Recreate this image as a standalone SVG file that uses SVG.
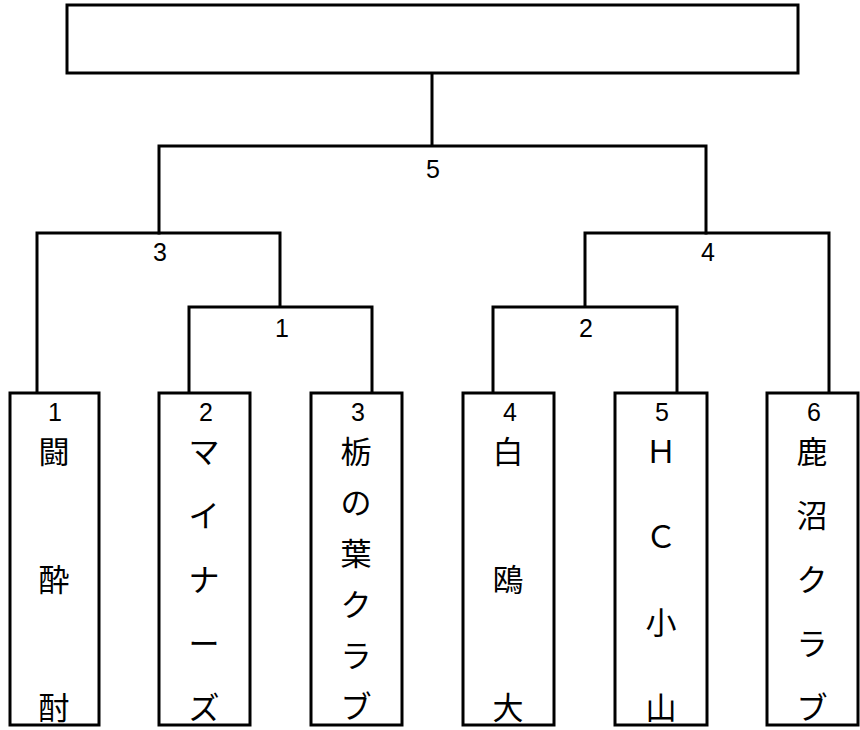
<svg xmlns="http://www.w3.org/2000/svg" width="860" height="730" viewBox="0 0 860 730">
<style>
.box{fill:#fff;stroke:#000;stroke-width:3}
.ln{fill:none;stroke:#000;stroke-width:3;stroke-linecap:square}
.num{font-family:"Liberation Sans",Arial,sans-serif;font-size:25px;text-anchor:middle;fill:#000}
.nm{font-family:"Noto Sans CJK JP","Noto Sans CJK SC",sans-serif;font-size:31px;text-anchor:middle;dominant-baseline:central;fill:#000}
</style>
<rect width="860" height="730" fill="#fff"/>
<g id="connectors">
<path class="ln" d="M432,73 V146 M159,146 H706 M159,146 V233 M706,146 V233"/>
<path class="ln" d="M37,233 H280 M37,233 V393 M280,233 V307 M189,307 H372 M189,307 V393 M372,307 V393"/>
<path class="ln" d="M585,233 H829 M829,233 V393 M585,233 V307 M493,307 H677 M493,307 V393 M677,307 V393"/>
</g>
<g id="champion"><rect class="box" x="67" y="5" width="731" height="68"/></g>
<g id="match-labels">
<text class="num" x="433" y="178">5</text>
<text class="num" x="160" y="261">3</text>
<text class="num" x="708" y="261">4</text>
<text class="num" x="282" y="337">1</text>
<text class="num" x="586" y="337">2</text>
</g>
<g id="team1">
<rect class="box" x="10" y="393" width="89" height="332"/>
<text class="num" x="55" y="421">1</text>
<text class="nm"><tspan x="54" y="449">闘</tspan><tspan x="54" y="577">酔</tspan><tspan x="54" y="705">酎</tspan></text>
</g>
<g id="team2">
<rect class="box" x="159" y="393" width="91" height="332"/>
<text class="num" x="206" y="421">2</text>
<text class="nm"><tspan x="204" y="449">マ</tspan><tspan x="204" y="513">イ</tspan><tspan x="204" y="577">ナ</tspan><tspan x="204" y="641">ー</tspan><tspan x="204" y="705">ズ</tspan></text>
</g>
<g id="team3">
<rect class="box" x="311" y="393" width="91" height="332"/>
<text class="num" x="358" y="421">3</text>
<text class="nm"><tspan x="356" y="449">栃</tspan><tspan x="356" y="500">の</tspan><tspan x="356" y="551">葉</tspan><tspan x="356" y="602">ク</tspan><tspan x="356" y="653">ラ</tspan><tspan x="356" y="704">ブ</tspan></text>
</g>
<g id="team4">
<rect class="box" x="463" y="393" width="91" height="332"/>
<text class="num" x="510" y="421">4</text>
<text class="nm"><tspan x="508" y="449">白</tspan><tspan x="508" y="577">鴎</tspan><tspan x="508" y="705">大</tspan></text>
</g>
<g id="team5">
<rect class="box" x="615" y="393" width="92" height="332"/>
<text class="num" x="662" y="421">5</text>
<text class="nm"><tspan x="661" y="449">Ｈ</tspan><tspan x="661" y="534">Ｃ</tspan><tspan x="661" y="620">小</tspan><tspan x="661" y="705">山</tspan></text>
</g>
<g id="team6">
<rect class="box" x="767" y="393" width="91" height="332"/>
<text class="num" x="814" y="421">6</text>
<text class="nm"><tspan x="812" y="449">鹿</tspan><tspan x="812" y="513">沼</tspan><tspan x="812" y="577">ク</tspan><tspan x="812" y="641">ラ</tspan><tspan x="812" y="705">ブ</tspan></text>
</g>
</svg>
